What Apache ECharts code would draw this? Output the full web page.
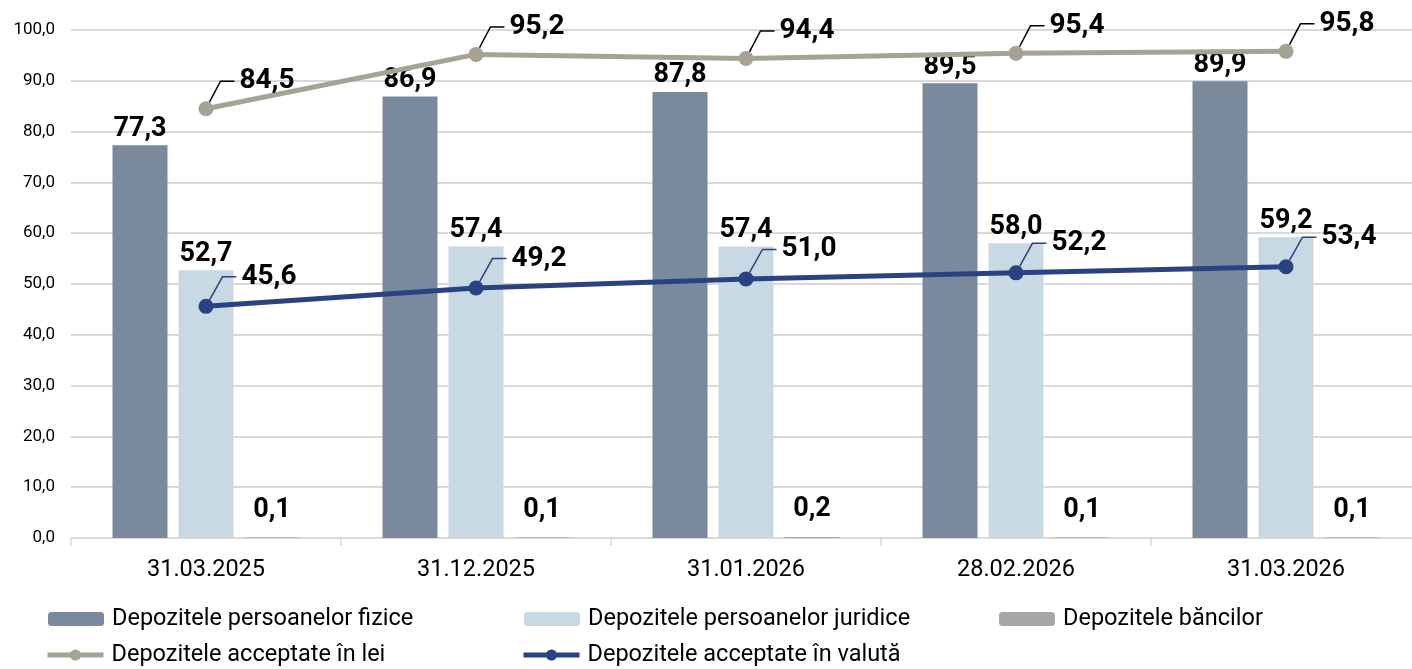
<!DOCTYPE html>
<html>
<head>
<meta charset="utf-8">
<script src="https://cdn.jsdelivr.net/npm/echarts@6/dist/echarts.min.js"></script>
<style>
html,body{margin:0;padding:0;background:#fff;overflow:hidden;width:1412px;height:669px;}
#chart{width:1430px;height:669px;}
</style>
</head>
<body>
<div id="chart"></div>
<script>
const categories = ['31.03.2025', '31.12.2025', '31.01.2026', '28.02.2026', '31.03.2026'];
const fizice = [77.3, 86.9, 87.8, 89.5, 89.9];
const juridice = [52.7, 57.4, 57.4, 58.0, 59.2];
const bancilor = [0.1, 0.1, 0.2, 0.1, 0.1];
const lei = [84.5, 95.2, 94.4, 95.4, 95.8];
const valuta = [45.6, 49.2, 51.0, 52.2, 53.4];
const seriesNames = ['Depozitele persoanelor fizice', 'Depozitele persoanelor juridice', 'Depozitele băncilor', 'Depozitele acceptate în lei', 'Depozitele acceptate în valută'];

const FONT = 'Roboto';
const fmt = v => Number(v).toFixed(1).replace('.', ',');
const barLabel = {
  show: true, position: 'top', distance: 3,
  fontFamily: FONT, fontSize: 27, fontWeight: 'bold', color: '#000',
  formatter: p => fmt(p.value)
};
const lineLabel = {
  show: true, position: 'top', distance: 0,
  formatter: p => '{g|}{v|' + fmt(p.value) + '}',
  rich: {
    g: {width: 10},
    v: {fontFamily: FONT, fontSize: 28, fontWeight: 'bold', color: '#000'}
  }
};

const chart = echarts.init(document.getElementById('chart'), null, {renderer: 'canvas'});
function legendAt(name, left, top) {
  return {
    data: [name], left: left, top: top, orient: 'horizontal', padding: 0,
    itemWidth: 56, itemHeight: 14, itemGap: 0,
    selectedMode: false,
    lineStyle: {width: 5},
    textStyle: {fontFamily: FONT, fontSize: 23.5, color: '#000', padding: [0, 0, 0, 3]}
  };
}
const option = {
  backgroundColor: '#fff',
  animation: false,
  grid: {left: 71, top: 30, width: 1350, height: 508, containLabel: false},
  legend: [
    legendAt(seriesNames[0], 48, 607),
    legendAt(seriesNames[1], 524, 607),
    legendAt(seriesNames[2], 999, 607),
    legendAt(seriesNames[3], 45, 643),
    legendAt(seriesNames[4], 521, 643)
  ],
  xAxis: {
    type: 'category', data: categories,
    axisLine: {lineStyle: {color: '#d9d9d9', width: 1.5}},
    axisTick: {show: true, length: 8, lineStyle: {color: '#d9d9d9', width: 1.5}},
    axisLabel: {fontFamily: FONT, fontSize: 23.5, color: '#000', margin: 20}
  },
  yAxis: {
    type: 'value', min: 0, max: 100, interval: 10,
    axisLine: {show: false}, axisTick: {show: false},
    splitLine: {lineStyle: {color: '#d9d9d9', width: 2}},
    axisLabel: {fontFamily: FONT, fontSize: 17, color: '#000', margin: 16, formatter: v => fmt(v)}
  },
  series: [
    {name: seriesNames[0], type: 'bar', data: fizice, barWidth: 55, barGap: '20%',
     itemStyle: {color: '#7a899b'}, label: barLabel, z: 2},
    {name: seriesNames[1], type: 'bar', data: juridice, barWidth: 55, barGap: '20%',
     itemStyle: {color: '#c9d9e3'}, label: barLabel, z: 2},
    {name: seriesNames[2], type: 'bar', data: bancilor, barWidth: 55, barGap: '20%',
     itemStyle: {color: '#a6a6a6'}, label: Object.assign({}, barLabel, {distance: 14}), z: 2},
    {name: seriesNames[3], type: 'line', data: lei, symbol: 'circle', symbolSize: 15,
     lineStyle: {color: '#a5a394', width: 5}, itemStyle: {color: '#a5a394'},
     label: lineLabel, labelLine: {show: true, length2: 14, lineStyle: {color: '#000', width: 1.5}},
     labelLayout: {dx: 56, dy: -6}, z: 5},
    {name: seriesNames[4], type: 'line', data: valuta, symbol: 'circle', symbolSize: 15,
     lineStyle: {color: '#2b4282', width: 5}, itemStyle: {color: '#2b4282'},
     label: lineLabel, labelLine: {show: true, length2: 14, lineStyle: {color: '#2b4282', width: 1.5}},
     labelLayout: {dx: 58, dy: -8}, z: 5}
  ]
};
chart.setOption(option);
</script>
</body>
</html>
